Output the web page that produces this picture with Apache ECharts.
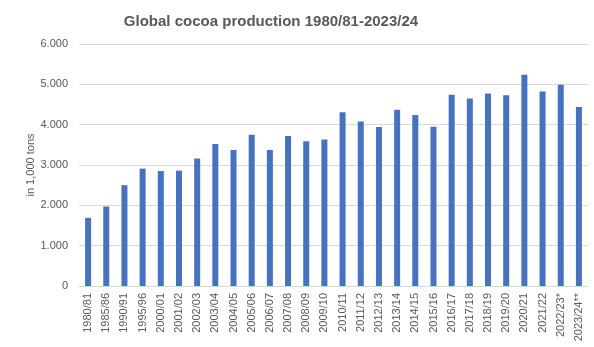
<!DOCTYPE html>
<html>
<head>
    <meta charset="utf-8">
    <title>Global cocoa production</title>
    <script src="https://cdn.jsdelivr.net/npm/echarts@6/dist/echarts.min.js"></script>
    <style>
        * { margin: 0; padding: 0; }
        html, body { background: #fff; }
        #main { width: 594px; height: 347px; }
    </style>
</head>
<body>
<div id="main"></div>
<script>
    var seasons = ['1980/81', '1985/86', '1990/91', '1995/96', '2000/01', '2001/02', '2002/03',
        '2003/04', '2004/05', '2005/06', '2006/07', '2007/08', '2008/09', '2009/10', '2010/11',
        '2011/12', '2012/13', '2013/14', '2014/15', '2015/16', '2016/17', '2017/18', '2018/19',
        '2019/20', '2020/21', '2021/22', '2022/23*', '2023/24**'];
    // production in 1,000 tons
    var production = [1690, 1970, 2500, 2910, 2850, 2860, 3160,
        3520, 3375, 3750, 3375, 3720, 3590, 3630, 4310,
        4080, 3940, 4370, 4240, 3950, 4740, 4650, 4770,
        4730, 5240, 4820, 4990, 4440];
    var yTicks = [0, 1000, 2000, 3000, 4000, 5000, 6000];

    var chart = echarts.init(document.getElementById('main'));
    var fontFam = '"Liberation Sans", Arial, sans-serif';

    function fmt(v) {
        // thousands separator as dot, like the source
        return String(v).replace(/\B(?=(\d{3})+(?!\d))/g, '.');
    }

    var option = {
        animation: false,
        title: {
            text: 'Global cocoa production 1980/81-2023/24',
            left: 266,
            textAlign: 'center',
            top: 9,
            textStyle: { fontFamily: fontFam, fontSize: 15, fontWeight: 'bold', color: '#595959' }
        },
        grid: { left: 79, right: 6, top: 44, bottom: 61 },
        xAxis: {
            type: 'category',
            data: seasons,
            axisLine: { lineStyle: { color: '#d9d9d9' } },
            axisTick: { show: false },
            axisLabel: { rotate: 90, interval: 0, margin: 7, fontFamily: fontFam, fontSize: 11, color: '#595959' }
        },
        yAxis: {
            type: 'value',
            min: yTicks[0],
            max: yTicks[yTicks.length - 1],
            interval: 1000,
            name: 'in 1,000 tons',
            nameLocation: 'middle',
            nameGap: 43,
            nameMoveOverlap: false,
            nameTextStyle: { fontFamily: fontFam, fontSize: 11, color: '#595959' },
            axisLine: { show: false },
            axisTick: { show: false },
            splitLine: { lineStyle: { color: '#d9d9d9' } },
            axisLabel: { margin: 11, fontFamily: fontFam, fontSize: 11, color: '#595959', formatter: fmt }
        },
        series: [{
            type: 'bar',
            data: production,
            barWidth: 6,
            itemStyle: { color: '#4472c4' }
        }]
    };
    chart.setOption(option);
</script>
</body>
</html>
